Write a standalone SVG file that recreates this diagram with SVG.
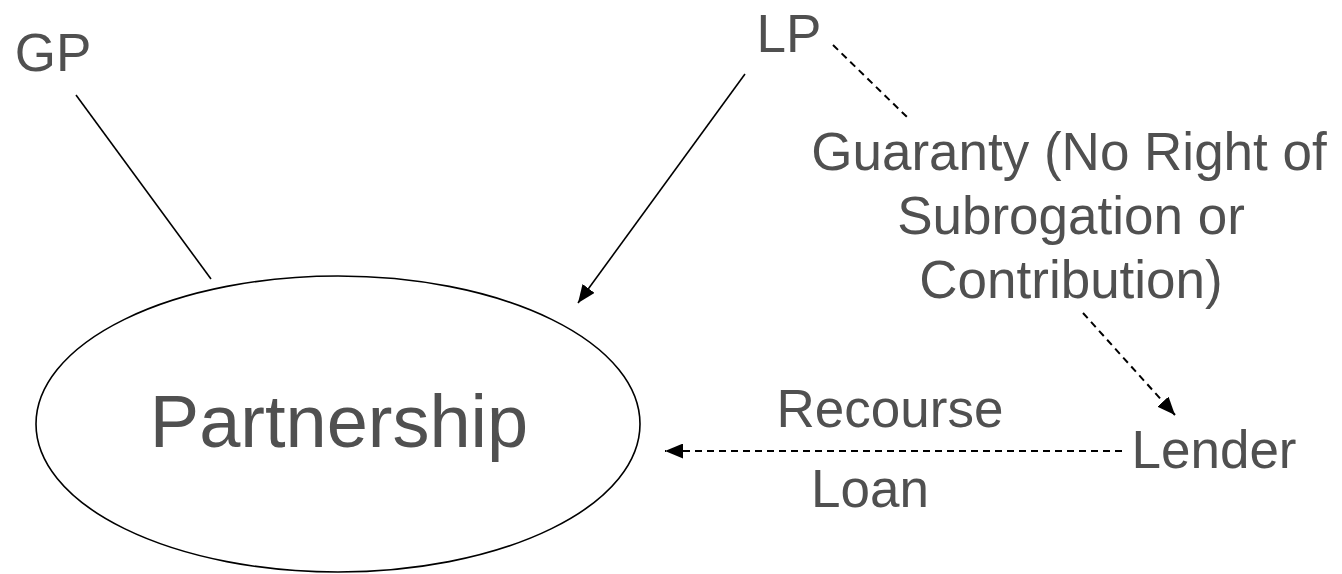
<svg xmlns="http://www.w3.org/2000/svg" width="1342" height="574" viewBox="0 0 1342 574">
<defs>
<style>
.t{font-family:"Liberation Sans",Arial,sans-serif;fill:#505050;text-anchor:middle}
.s{font-size:53px}
.solid{stroke:#000;stroke-width:1.6;fill:none}
.dash{stroke:#000;stroke-width:2;fill:none;stroke-dasharray:7 5}
</style>
<marker id="ah" viewBox="0 0 10 10" refX="10" refY="5" markerWidth="18" markerHeight="15" markerUnits="userSpaceOnUse" orient="auto" preserveAspectRatio="none">
<path d="M0,0 L10,5 L0,10 z" fill="#000"/>
</marker>
</defs>
<rect width="1342" height="574" fill="#fff"/>
<g id="partnership">
<ellipse cx="338" cy="424" rx="302" ry="148" class="solid"/>
<text class="t" x="339" y="447" font-size="74">Partnership</text>
</g>
<g id="gp"><text class="t s" x="53" y="71">GP</text></g>
<g id="lp"><text class="t s" x="789" y="52">LP</text></g>
<g id="lender"><text class="t s" x="1214" y="468">Lender</text></g>
<g id="connectors">
<line class="solid" x1="76" y1="95" x2="211" y2="279"/>
<line class="solid" x1="745" y1="74" x2="578" y2="303" marker-end="url(#ah)"/>
<line class="dash" x1="833" y1="45" x2="908" y2="118"/>
<line class="dash" x1="1083" y1="313" x2="1175" y2="415" marker-end="url(#ah)"/>
<line class="dash" x1="1122" y1="451" x2="665" y2="451" marker-end="url(#ah)"/>
<text class="t s" x="1069" y="170">Guaranty (No Right of</text>
<text class="t s" x="1071" y="234">Subrogation or</text>
<text class="t s" x="1071" y="298">Contribution)</text>
<text class="t s" x="890" y="427">Recourse</text>
<text class="t s" x="870" y="507">Loan</text>
</g>
</svg>
